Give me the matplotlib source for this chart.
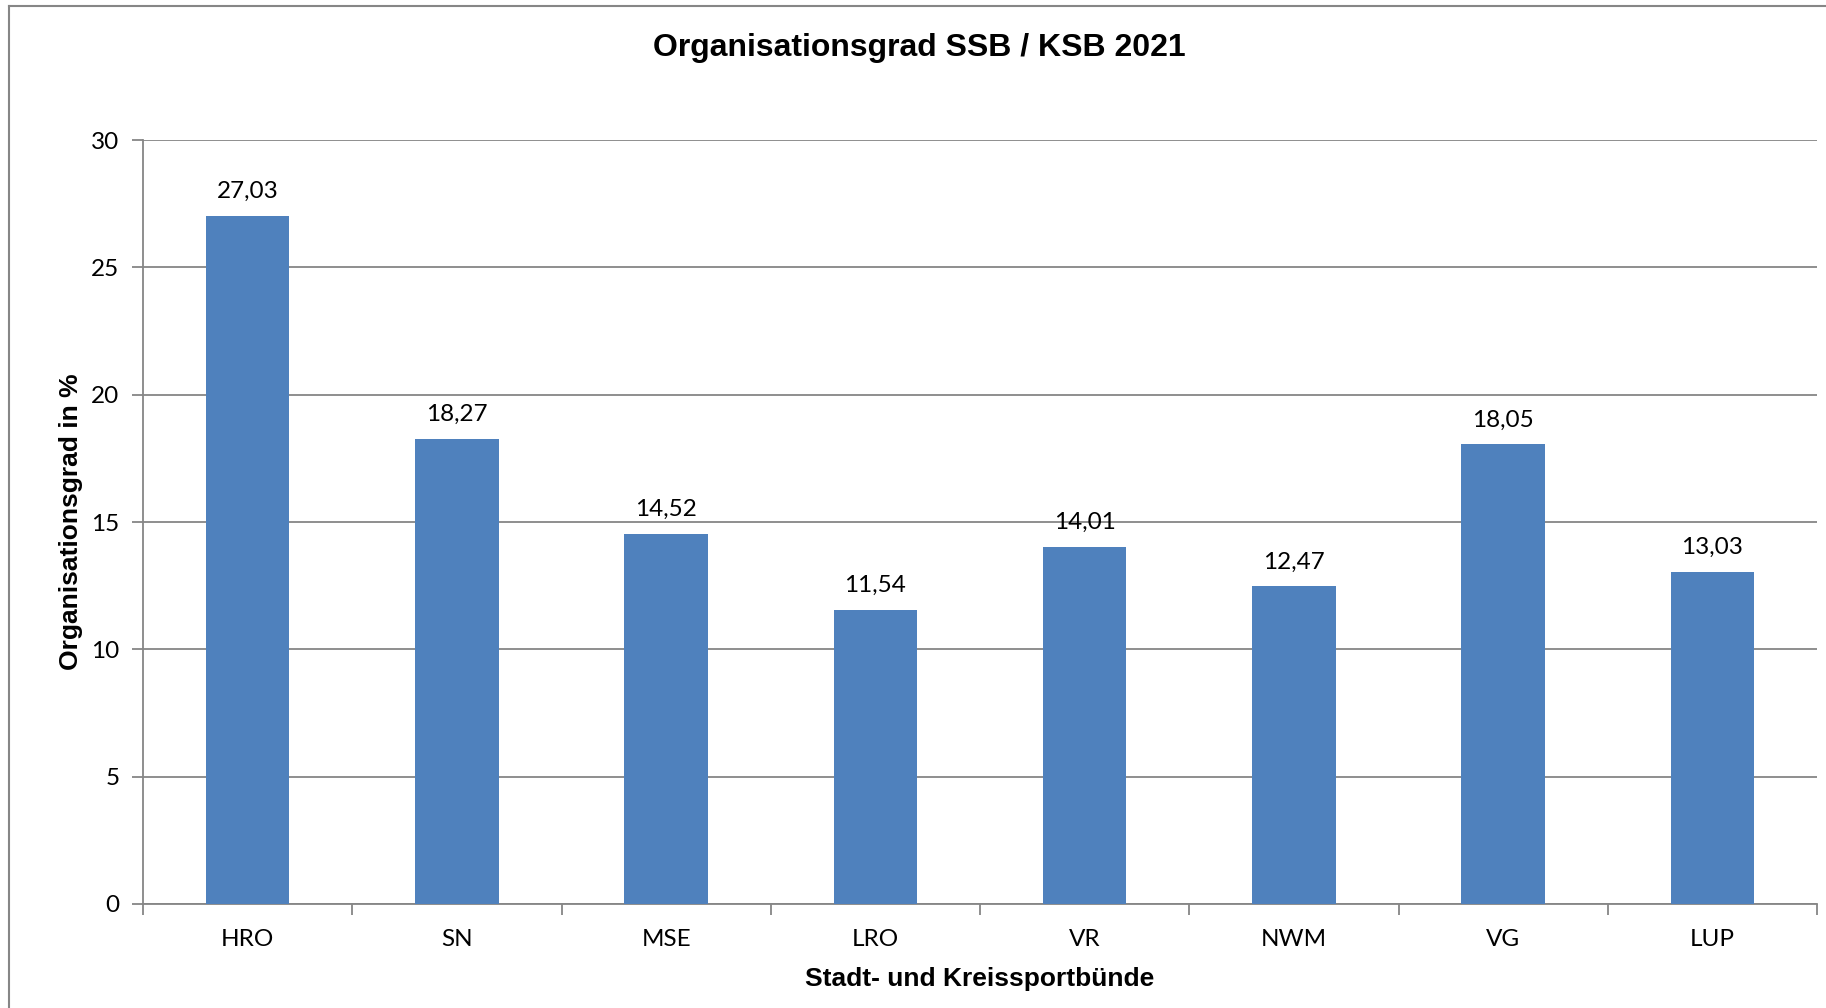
import matplotlib.pyplot as plt
from matplotlib.lines import Line2D
import numpy as np

# Organisationsgrad je Stadt-/Kreissportbund 2021
bunde = ['HRO', 'SN', 'MSE', 'LRO', 'VR', 'NWM', 'VG', 'LUP']
grad = [27.03, 18.27, 14.52, 11.54, 14.01, 12.47, 18.05, 13.03]
y_ticks = [0, 5, 10, 15, 20, 25, 30]

bar_color = '#4F81BD'
grey = '#868686'
label_font = 'Lato'
head_font = 'Liberation Sans'

fig = plt.figure(figsize=(18.26, 10.08), dpi=100)
ax = fig.add_axes([143 / 1826, 1 - 904 / 1008, 1674 / 1826, 764 / 1008])

x = np.arange(len(bunde))
ax.bar(x, grad, width=0.4, color=bar_color, zorder=3)

for xi, v in zip(x, grad):
    ax.annotate(f'{v:.2f}'.replace('.', ','), (xi, v), xytext=(0, 10),
                textcoords='offset points', ha='center', va='bottom',
                fontsize=17.5, family=label_font)

ax.set_xlim(-0.5, len(bunde) - 0.5)
ax.set_ylim(0, 30)
ax.set_yticks(y_ticks)
ax.set_yticklabels([str(t) for t in y_ticks], family=label_font, fontsize=17.5)
ax.yaxis.grid(True, color=grey, linewidth=1.3, zorder=0)

ax.set_xticks(x)
ax.set_xticklabels(bunde, family=label_font, fontsize=17.5)
ax.tick_params(axis='x', which='major', length=0, pad=18)
ax.set_xticks(np.arange(-0.5, len(bunde)), minor=True)
ax.tick_params(axis='x', which='minor', length=8, width=1.3, color=grey, direction='out')
ax.tick_params(axis='y', length=8, width=1.3, color=grey, direction='out', pad=9)

for side in ['top', 'right']:
    ax.spines[side].set_visible(False)
for side in ['left', 'bottom']:
    ax.spines[side].set_color(grey)
    ax.spines[side].set_linewidth(1.3)

ax.set_ylabel('Organisationsgrad in %', family=head_font, fontweight='bold', fontsize=19, labelpad=6)
ax.set_xlabel('Stadt- und Kreissportbünde', family=head_font, fontweight='bold', fontsize=19, labelpad=12.5)

fig.text(919 / 1826, 1 - 48 / 1008, 'Organisationsgrad SSB / KSB 2021', family=head_font,
         fontweight='bold', fontsize=23, ha='center', va='center')

# outer chart frame (cut off at right and bottom)
fig.add_artist(Line2D([9 / 1826, 9 / 1826], [0, 1 - 6 / 1008], transform=fig.transFigure, color=grey, linewidth=1.5))
fig.add_artist(Line2D([9 / 1826, 1], [1 - 6 / 1008, 1 - 6 / 1008], transform=fig.transFigure, color=grey, linewidth=1.5))

fig.savefig('out.png', dpi=100)
